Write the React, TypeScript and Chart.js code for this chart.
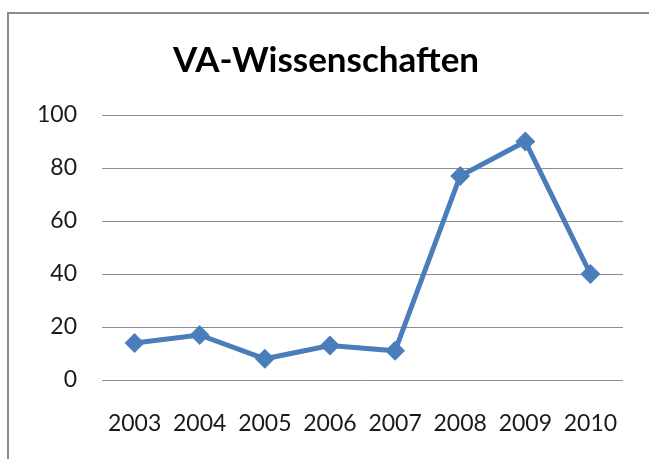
import React, { useEffect, useRef } from "react";
import { Chart, registerables } from "chart.js";

Chart.register(...registerables);

const TITLE = "VA-Wissenschaften";
const YEARS = ["2003", "2004", "2005", "2006", "2007", "2008", "2009", "2010"];
const VALUES = [14, 17, 8, 13, 11, 77, 90, 40];
const Y_TICKS = [0, 20, 40, 60, 80, 100];

const FONT = "Lato, 'Open Sans', sans-serif";

const titlePlugin = {
  id: "customTitle",
  afterDraw(chart: any) {
    const ctx = chart.ctx;
    ctx.save();
    ctx.font = `bold 35px ${FONT}`;
    ctx.fillStyle = "#000000";
    ctx.textAlign = "center";
    ctx.textBaseline = "alphabetic";
    ctx.fillText(TITLE, 326, 72);
    ctx.restore();
  },
};

export default function App() {
  const ref = useRef<HTMLCanvasElement | null>(null);

  useEffect(() => {
    if (!ref.current) return;
    const chart = new Chart(ref.current, {
      type: "line",
      data: {
        labels: YEARS,
        datasets: [
          {
            data: VALUES,
            borderColor: "#4a7ebb",
            backgroundColor: "#4a7ebb",
            borderWidth: 5,
            pointStyle: "rectRot",
            pointRadius: 10,
            pointHoverRadius: 10,
            pointBorderWidth: 0,
            tension: 0,
            fill: false,
          },
        ],
      },
      options: {
        responsive: false,
        animation: false,
        layout: { padding: { top: 115, right: 26, left: 0, bottom: 0 } },
        plugins: {
          legend: { display: false },
          title: { display: false },
          tooltip: { enabled: false },
        },
        scales: {
          x: {
            offset: true,
            grid: { display: false, drawTicks: false },
            border: { display: false },
            ticks: {
              color: "#1a1a1a",
              font: { family: FONT, size: 23 },
              padding: 30,
              maxRotation: 0,
              autoSkip: false,
            },
            afterFit: (s: any) => {
              s.height = 79;
            },
          },
          y: {
            min: 0,
            max: 100,
            afterBuildTicks: (s: any) => {
              s.ticks = Y_TICKS.map((v) => ({ value: v }));
            },
            grid: { color: "#8c8c8c", lineWidth: 1, drawTicks: false },
            border: { display: false },
            ticks: {
              color: "#1a1a1a",
              font: { family: FONT, size: 23 },
              padding: 25,
            },
            afterFit: (s: any) => {
              s.width = 102;
            },
          },
        },
      },
      plugins: [titlePlugin],
    });
    return () => chart.destroy();
  }, []);

  return (
    <div
      style={{
        position: "fixed",
        left: 0,
        top: 0,
        width: 649,
        height: 459,
        overflow: "hidden",
        background: "#ffffff",
      }}
    >
      <div
        style={{
          position: "absolute",
          left: 7,
          top: 12,
          width: 700,
          height: 500,
          borderLeft: "2px solid #8c8c8c",
          borderTop: "2px solid #8c8c8c",
        }}
      />
      <canvas
        ref={ref}
        width={649}
        height={459}
        style={{ position: "absolute", left: 0, top: 0, width: 649, height: 459 }}
      />
    </div>
  );
}
